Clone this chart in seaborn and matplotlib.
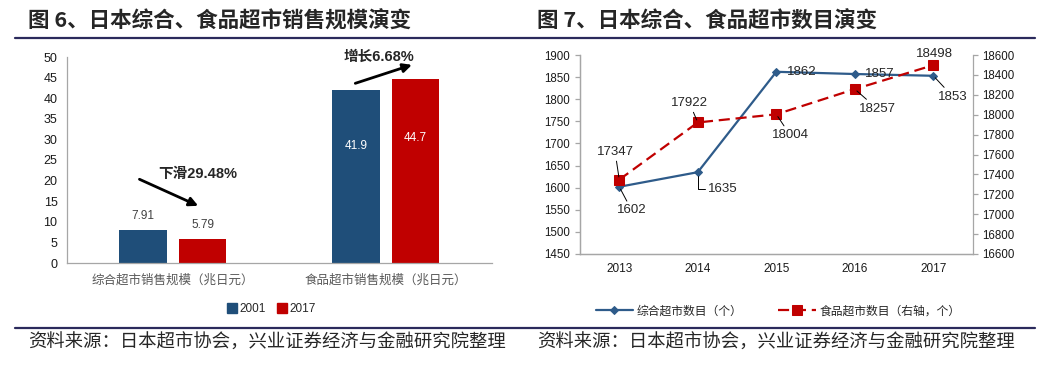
import matplotlib
matplotlib.use("Agg")
import matplotlib.pyplot as plt
from matplotlib.lines import Line2D
from matplotlib.ticker import FixedLocator, MultipleLocator
import pandas as pd
import seaborn as sns

# figure 6: sales scale (trillion yen)
SALES_CATEGORIES = ["综合超市销售规模（兆日元）", "食品超市销售规模（兆日元）"]
SALES_YEARS = ["2001", "2017"]
SALES_2001 = [7.91, 41.9]
SALES_2017 = [5.79, 44.7]
CHANGE_LABELS = ["下滑29.48%", "增长6.68%"]

# figure 7: store counts
YEARS = ["2013", "2014", "2015", "2016", "2017"]
GMS_COUNT = [1602, 1635, 1862, 1857, 1853]
FOOD_COUNT = [17347, 17922, 18004, 18257, 18498]
GMS_NAME = "综合超市数目（个）"
FOOD_NAME = "食品超市数目（右轴，个）"

TITLES = ["图 6、日本综合、食品超市销售规模演变", "图 7、日本综合、食品超市数目演变"]
SOURCE = "资料来源：日本超市协会，兴业证券经济与金融研究院整理"

BLUE = "#1F4E79"
LINE_BLUE = "#2E5B8A"
RED = "#C00000"
NAVY = "#2B2A5C"
GRAY = "#A6A6A6"

W, H = 1061, 386
NUM = ["Liberation Sans", "Noto Sans CJK SC", "DejaVu Sans"]
CJK = ["Noto Sans CJK SC", "DejaVu Sans"]


def fx(px):
    return px / W


def fy(py):
    return 1 - py / H


def style_axis(ax):
    for side in ax.spines:
        ax.spines[side].set_color(GRAY)
        ax.spines[side].set_linewidth(0.9)
    ax.tick_params(which="both", color=GRAY, width=0.9, direction="out")


def draw_sales(fig):
    ax = fig.add_axes([fx(66.5), fy(263), fx(492 - 66.5), (263 - 57) / H])
    df = pd.DataFrame({
        "category": SALES_CATEGORIES * 2,
        "year": [SALES_YEARS[0]] * 2 + [SALES_YEARS[1]] * 2,
        "value": SALES_2001 + SALES_2017,
    })
    sns.barplot(data=df, x="category", y="value", hue="year", ax=ax,
                palette={SALES_YEARS[0]: BLUE, SALES_YEARS[1]: RED},
                width=0.56, gap=0.2, saturation=1, linewidth=0, legend=False)
    ax.set_xlim(-0.5, 1.5)
    ax.set_ylim(0, 50)
    ax.yaxis.set_major_locator(MultipleLocator(5))
    ax.set_xlabel("")
    ax.set_ylabel("")
    ax.spines["top"].set_visible(False)
    ax.spines["right"].set_visible(False)
    style_axis(ax)
    ax.tick_params(axis="y", length=3.5, pad=3, labelsize=9, labelcolor="#1a1a1a")
    ax.xaxis.set_minor_locator(FixedLocator([-0.5, 0.5, 1.5]))
    ax.tick_params(axis="x", which="minor", length=4)
    ax.tick_params(axis="x", which="major", length=0, pad=8)
    for lab in ax.get_xticklabels():
        lab.set_family(CJK)
        lab.set_fontsize(9)
        lab.set_color("#595959")
    for lab in ax.get_yticklabels():
        lab.set_family(NUM)

    for cont in ax.containers:
        for bar in cont:
            h = bar.get_height()
            xc = bar.get_x() + bar.get_width() / 2
            if h < 20:
                ax.text(xc, h + 3.4, f"{h:g}", ha="center", va="center",
                        fontsize=8.5, color="#404040", family=NUM)
            else:
                ax.text(xc, h * 0.68, f"{h:g}", ha="center", va="center",
                        fontsize=8.5, color="white", family=NUM)

    # change arrows
    ax.annotate("", xy=(0.131, 13.6), xytext=(-0.169, 20.6),
                arrowprops=dict(arrowstyle="-|>", lw=2, color="black", mutation_scale=13))
    ax.text(0.117, 21.6, CHANGE_LABELS[0], ha="center", va="center",
            fontsize=10.5, fontweight="bold", family=NUM)
    ax.annotate("", xy=(1.136, 48.3), xytext=(0.845, 43.4), annotation_clip=False,
                arrowprops=dict(arrowstyle="-|>", lw=2, color="black", mutation_scale=13))
    ax.text(0.97, 50, CHANGE_LABELS[1], ha="center", va="center",
            fontsize=10.5, fontweight="bold", family=NUM, clip_on=False)

    handles = [Line2D([], [], marker="s", ls="", color=c, markersize=6.5) for c in (BLUE, RED)]
    fig.legend(handles, SALES_YEARS, loc="center", bbox_to_anchor=(fx(272), fy(309)),
               ncol=2, frameon=False, prop={"family": NUM, "size": 8.5},
               handlelength=0.7, handletextpad=0.3, columnspacing=1.0)


def draw_counts(fig):
    ax = fig.add_axes([fx(580), fy(254), fx(972.6 - 580), (254 - 55) / H])
    sns.lineplot(x=YEARS, y=GMS_COUNT, ax=ax, color=LINE_BLUE, marker="D", markersize=4,
                 markeredgecolor=LINE_BLUE, lw=1.6, sort=False, legend=False)
    ax2 = ax.twinx()
    sns.lineplot(x=YEARS, y=FOOD_COUNT, ax=ax2, color=RED, marker="s", markersize=6.5,
                 markeredgecolor=RED, lw=1.6, linestyle=(0, (5, 2.6)), sort=False, legend=False)
    ax.set_xlim(-0.5, len(YEARS) - 0.5)
    ax.set_ylim(1450, 1900)
    ax2.set_ylim(16600, 18600)
    ax.yaxis.set_major_locator(MultipleLocator(50))
    ax2.yaxis.set_major_locator(MultipleLocator(200))
    for a in (ax, ax2):
        a.set_xlabel("")
        a.set_ylabel("")
        a.spines["top"].set_visible(False)
        style_axis(a)
        a.tick_params(axis="y", length=3.5, pad=3.5, labelsize=8.3, labelcolor="#1a1a1a")
        for lab in a.get_yticklabels():
            lab.set_family(NUM)
    ax.spines["right"].set_visible(False)
    ax.xaxis.set_minor_locator(FixedLocator([i - 0.5 for i in range(len(YEARS) + 1)]))
    ax.tick_params(axis="x", which="minor", length=4)
    ax.tick_params(axis="x", which="major", length=0, pad=6.5, labelsize=8.5, labelcolor="#1a1a1a")
    for lab in ax.get_xticklabels():
        lab.set_family(NUM)

    # data labels: offsets in points, leader style
    gms_offsets = [(9, -17, "line"), (18, -12, "elbow"), (18, 0, None), (18, 0, None), (14, -15, "line")]
    food_offsets = [(-3, 20, "line"), (-6, 14, "line"), (10, -15, "line"), (16, -14, "line"), (1, 8, None)]
    for a, vals, offs in ((ax, GMS_COUNT, gms_offsets), (ax2, FOOD_COUNT, food_offsets)):
        for i, (v, (dx, dy, lead)) in enumerate(zip(vals, offs)):
            props = None
            if lead == "line":
                props = dict(arrowstyle="-", color="black", lw=0.7, shrinkA=0, shrinkB=2)
            elif lead == "elbow":
                props = dict(arrowstyle="-", color="black", lw=0.7, shrinkA=0, shrinkB=3,
                             connectionstyle="angle,angleA=0,angleB=90,rad=0")
            a.annotate(str(v), xy=(i, v), xytext=(dx, dy), textcoords="offset points",
                       ha="center", va="center", fontsize=9.5, family=NUM,
                       arrowprops=props, annotation_clip=False)

    handles = [ax.lines[0], ax2.lines[0]]
    fig.legend(handles, [GMS_NAME, FOOD_NAME], loc="center", bbox_to_anchor=(fx(778), fy(311)),
               ncol=2, frameon=False, prop={"family": CJK, "size": 8.5},
               handlelength=3.2, handletextpad=0.3, columnspacing=3.0)


def main():
    sns.set_theme(style="white")
    plt.rcParams["font.family"] = NUM
    plt.rcParams["axes.unicode_minus"] = False
    fig = plt.figure(figsize=(W / 100, H / 100), dpi=100)

    fig.text(fx(28), fy(21), TITLES[0], fontsize=15.5, fontweight="bold", family=CJK, va="center")
    fig.text(fx(537), fy(21), TITLES[1], fontsize=15.5, fontweight="bold", family=CJK, va="center")
    fig.add_artist(Line2D([fx(15), fx(1035)], [fy(37.5), fy(37.5)], color=NAVY, lw=1.6))
    fig.add_artist(Line2D([fx(15), fx(1035)], [fy(327.7), fy(327.7)], color=NAVY, lw=1.6))
    fig.text(fx(28), fy(342.7), SOURCE, fontsize=13.2, family=CJK, va="center")
    fig.text(fx(537), fy(342.7), SOURCE, fontsize=13.2, family=CJK, va="center")

    draw_sales(fig)
    draw_counts(fig)

    fig.savefig("out.png", dpi=100)
    plt.close(fig)


if __name__ == "__main__":
    main()
